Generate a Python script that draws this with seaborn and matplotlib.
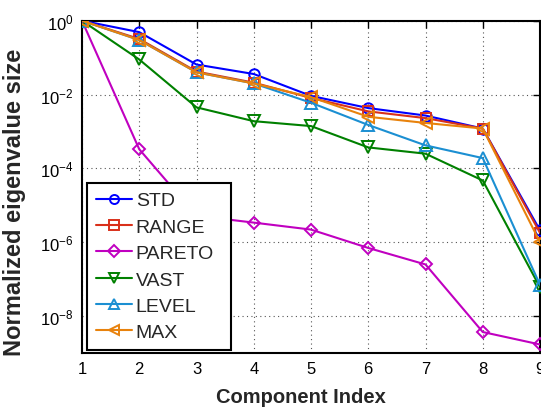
import numpy as np
import pandas as pd
import matplotlib
matplotlib.use("Agg")
import matplotlib.pyplot as plt
import seaborn as sns
from matplotlib.ticker import FixedLocator, NullLocator

# Component indices
components = [1, 2, 3, 4, 5, 6, 7, 8, 9]

# Normalized eigenvalue sizes per scaling method
std_vals = [1.0, 0.49, 0.065, 0.036, 0.0092, 0.0043, 0.0027, 0.0012, 2.1e-6]
range_vals = [1.0, 0.32, 0.042, 0.021, 0.0081, 0.0035, 0.0023, 0.0012, 1.8e-6]
pareto_vals = [1.0, 3.3e-4, 5.2e-6, 3.4e-6, 2.2e-6, 7.0e-7, 2.5e-7, 3.7e-9, 1.7e-9]
vast_vals = [1.0, 0.089, 0.0045, 0.0019, 0.0014, 3.7e-4, 2.5e-4, 4.7e-5, 6.0e-8]
level_vals = [1.0, 0.30, 0.040, 0.020, 0.0060, 0.0015, 4.2e-4, 1.9e-4, 7.0e-8]
max_vals = [1.0, 0.30, 0.040, 0.020, 0.0085, 0.0025, 0.0017, 0.0012, 1.0e-6]

series_names = ["STD", "RANGE", "PARETO", "VAST", "LEVEL", "MAX"]
series_values = [std_vals, range_vals, pareto_vals, vast_vals, level_vals, max_vals]
series_colors = ["#0000ff", "#d9301a", "#c000c0", "#008000", "#1b8fd2", "#e8820c"]
series_markers = ["o", "s", "D", "v", "^", "<"]
marker_sizes = [7.5, 6.5, 6.5, 8.5, 8.5, 8.5]

y_ticks = [1e0, 1e-2, 1e-4, 1e-6, 1e-8]

df = pd.DataFrame({
    "component": np.tile(components, len(series_names)),
    "value": np.concatenate(series_values),
    "method": np.repeat(series_names, len(components)),
})

sns.set_style("white")
plt.rcParams["font.family"] = ["Liberation Sans", "DejaVu Sans"]
plt.rcParams["mathtext.fontset"] = "custom"
plt.rcParams["mathtext.rm"] = "Liberation Sans"
plt.rcParams["mathtext.it"] = "Liberation Sans"

fig = plt.figure(figsize=(5.41, 4.10), dpi=100)
ax = fig.add_axes([82 / 541, 1 - 354 / 410, 458 / 541, 332.3 / 410])

for name, color, marker, ms in zip(series_names, series_colors, series_markers, marker_sizes):
    sub = df[df["method"] == name]
    sns.lineplot(data=sub, x="component", y="value", ax=ax, color=color,
                 marker=marker, markersize=ms, markerfacecolor="none",
                 markeredgecolor=color, markeredgewidth=1.4, linewidth=1.5,
                 label=name, zorder=3)

ax.set_yscale("log")
ax.set_xlim(1, 9)
ax.set_ylim(1e-9, 1)
ax.xaxis.set_major_locator(FixedLocator(components))
ax.yaxis.set_major_locator(FixedLocator(y_ticks))
ax.yaxis.set_minor_locator(NullLocator())
ax.set_yticklabels([r"$10^{%d}$" % int(round(np.log10(v))) for v in y_ticks])

ax.grid(True, which="major", linestyle=(0, (1, 3)), color="#555555", linewidth=0.8)
ax.tick_params(axis="both", which="major", direction="in", length=5, width=1.0,
               top=True, right=True, labelsize=12, pad=6, colors="black")
for spine in ax.spines.values():
    spine.set_visible(True)
    spine.set_color("black")
    spine.set_linewidth(1.5)

ax.set_xlabel("Component Index", fontsize=14.5, fontweight="bold")
ax.set_ylabel("Normalized eigenvalue size", fontsize=17, fontweight="bold")
ax.xaxis.set_label_coords(0.478, -0.103)
ax.yaxis.set_label_coords(-0.122, 0.457)

leg = ax.legend(loc="lower left", bbox_to_anchor=(0.011, 0.009, 0.315, 0.5), mode="expand",
                fontsize=14, frameon=True, fancybox=False, edgecolor="black", framealpha=1,
                handlelength=1.85, labelspacing=0.45, borderpad=0.45, handletextpad=0.2,
                borderaxespad=0)
leg.get_frame().set_linewidth(1.5)
for h in leg.legend_handles:
    h.set_markersize(6.5)

fig.savefig("out.png", dpi=100)
